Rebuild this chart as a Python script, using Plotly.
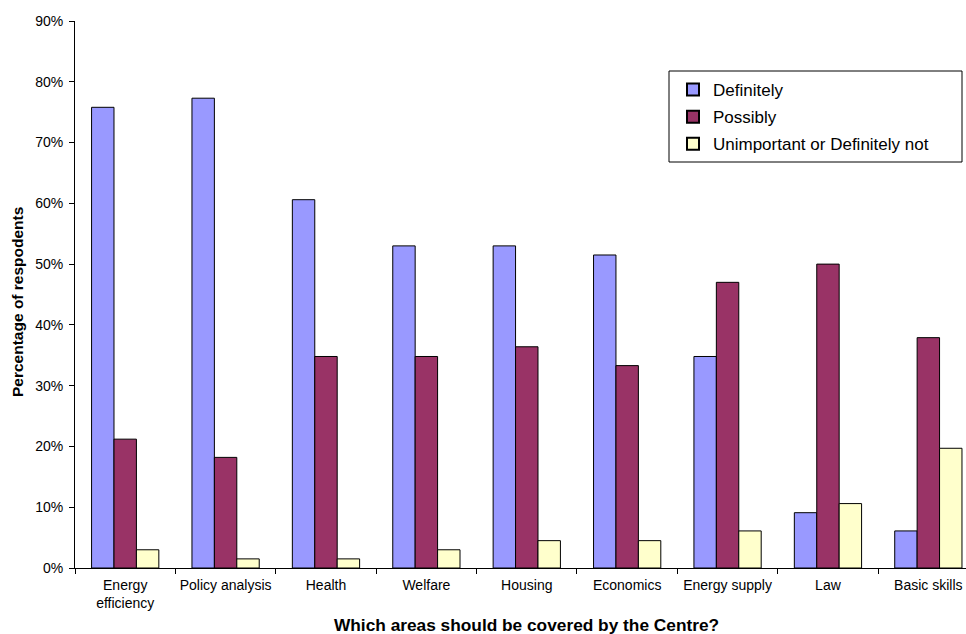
import plotly.graph_objects as go

# Survey results: share of respondents per area (percent)
categories = ["Energy<br>efficiency", "Policy analysis", "Health", "Welfare", "Housing",
              "Economics", "Energy supply", "Law", "Basic skills"]
definitely = [75.8, 77.3, 60.6, 53.0, 53.0, 51.5, 34.8, 9.1, 6.1]
possibly = [21.2, 18.2, 34.8, 34.8, 36.4, 33.3, 47.0, 50.0, 37.9]
unimportant = [3.0, 1.5, 1.5, 3.0, 4.5, 4.5, 6.1, 10.6, 19.7]
y_ticks = [0, 10, 20, 30, 40, 50, 60, 70, 80, 90]
y_tick_labels = ["0%", "10%", "20%", "30%", "40%", "50%", "60%", "70%", "80%", "90%"]

FONT = "Liberation Sans, Arial, sans-serif"

series = [
    ("Definitely", definitely, "#9999FF"),
    ("Possibly", possibly, "#993366"),
    ("Unimportant or Definitely not", unimportant, "#FFFFCC"),
]

fig = go.Figure()
for name, vals, color in series:
    fig.add_trace(go.Bar(
        x=categories, y=vals, name=name, legendgroup=name,
        marker=dict(color=color, line=dict(color="black", width=1)),
    ))

# plot area in pixels: x 75..966, y 21..568
def px_x(p):
    return (p - 75) / 891

def px_y(p):
    return (568 - p) / 547

fig.update_layout(
    width=966, height=634,
    margin=dict(l=75, r=0, t=21, b=66, autoexpand=False),
    paper_bgcolor="white", plot_bgcolor="white",
    barmode="group", bargap=0.33, bargroupgap=0,
    font=dict(family=FONT, color="black", size=14),
    showlegend=True,
    legend=dict(
        x=px_x(673), y=px_y(72), xanchor="left", yanchor="top",
        borderwidth=0, bgcolor="rgba(0,0,0,0)",
        font=dict(size=17, family=FONT, color="black"),
        tracegroupgap=2, itemsizing="constant",
    ),
    shapes=[
        dict(type="rect", xref="paper", yref="paper",
             x0=px_x(669), x1=px_x(962), y0=px_y(162), y1=px_y(71),
             line=dict(color="black", width=1), fillcolor="white", layer="below"),
    ],
    xaxis=dict(
        type="category", range=[-0.5, 8.375], automargin=False,
        showline=True, linecolor="black", linewidth=1,
        ticks="outside", tickson="boundaries", ticklen=5, tickcolor="black",
        showgrid=False, ticklabelstandoff=4, tickangle=0,
        tickfont=dict(size=14, family=FONT, color="black"),
    ),
    yaxis=dict(
        range=[0, 90], tickmode="array", tickvals=y_ticks, ticktext=y_tick_labels,
        automargin=False,
        showline=True, linecolor="black", linewidth=1,
        ticks="outside", ticklen=5, tickcolor="black",
        showgrid=False, zeroline=False, ticklabelstandoff=3,
        tickfont=dict(size=14, family=FONT, color="black"),
    ),
    annotations=[
        dict(text="<b>Which areas should be covered by the Centre?</b>",
             xref="paper", yref="paper", x=px_x(526), y=px_y(625),
             xanchor="center", yanchor="middle", showarrow=False,
             font=dict(size=17.3, family=FONT, color="black")),
        dict(text="<b>Percentage of respodents</b>",
             xref="paper", yref="paper", x=px_x(17), y=px_y(302),
             xanchor="center", yanchor="middle", showarrow=False, textangle=-90,
             font=dict(size=15.5, family=FONT, color="black")),
    ],
)

fig.write_html("out.html", config={"displayModeBar": False})
